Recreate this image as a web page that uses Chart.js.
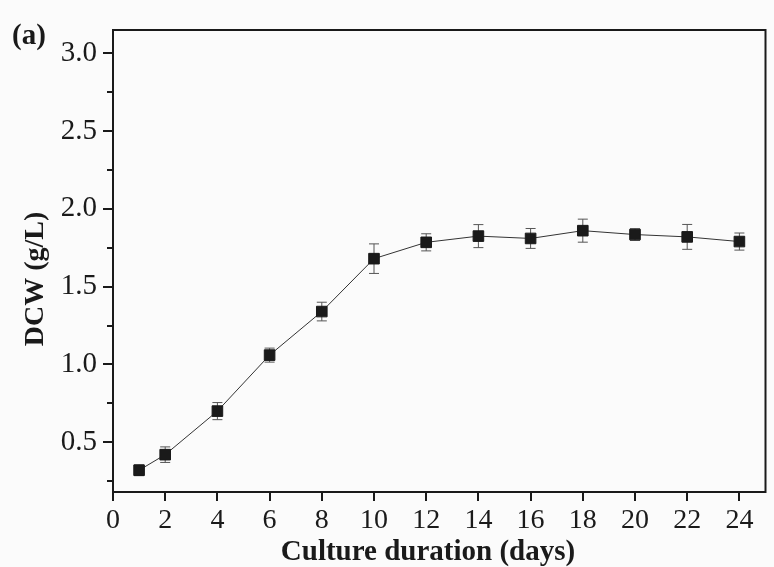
<!DOCTYPE html>
<html>
<head>
  <meta charset="UTF-8" />
  <title>DCW</title>
  <script src="https://cdn.jsdelivr.net/npm/chart.js"></script>
  <style>
    html, body { margin: 0; padding: 0; background: #fbfbfb; }
    #wrap { width: 774px; height: 567px; }
  </style>
</head>
<body>
<div id="wrap"><canvas id="dcwChart" width="774" height="567"></canvas></div>

<script>
  // culture days and dry cell weight (g/L)
  const days = [1, 2, 4, 6, 8, 10, 12, 14, 16, 18, 20, 22, 24];
  const dcw = [0.32, 0.42, 0.70, 1.06, 1.34, 1.68, 1.785, 1.825, 1.81, 1.86, 1.835, 1.82, 1.79];
  const dcwErr = [0.035, 0.05, 0.055, 0.045, 0.06, 0.095, 0.055, 0.074, 0.064, 0.074, 0.038, 0.08, 0.055];

  const panelLabel = '(a)';
  const xTitle = 'Culture duration (days)';
  const yTitle = 'DCW (g/L)';

  const inkColor = '#1a1a1a';
  const serif = "'Liberation Serif', 'Times New Roman', serif";

  // error bars, box frame, outward ticks, titles and panel label
  const decorations = {
    id: 'decorations',
    beforeDatasetsDraw(chart) {
      const ctx = chart.ctx;
      const xs = chart.scales.x;
      const ys = chart.scales.y;
      ctx.save();
      ctx.strokeStyle = '#555';
      ctx.lineWidth = 1;
      days.forEach((d, i) => {
        const px = xs.getPixelForValue(d);
        const top = ys.getPixelForValue(dcw[i] + dcwErr[i]);
        const bot = ys.getPixelForValue(dcw[i] - dcwErr[i]);
        ctx.beginPath();
        ctx.moveTo(px, top);
        ctx.lineTo(px, bot);
        ctx.moveTo(px - 5, top);
        ctx.lineTo(px + 5, top);
        ctx.moveTo(px - 5, bot);
        ctx.lineTo(px + 5, bot);
        ctx.stroke();
      });
      ctx.restore();
    },
    afterDraw(chart) {
      const ctx = chart.ctx;
      const area = chart.chartArea;
      const xs = chart.scales.x;
      const ys = chart.scales.y;
      ctx.save();
      ctx.strokeStyle = inkColor;
      ctx.lineWidth = 2;
      ctx.strokeRect(area.left, area.top, area.right - area.left, area.bottom - area.top);

      ctx.beginPath();
      ys.ticks.forEach(t => {
        const py = Math.round(ys.getPixelForValue(t.value));
        const len = t.label ? 10 : 6;
        ctx.moveTo(area.left - len, py);
        ctx.lineTo(area.left, py);
      });
      xs.ticks.forEach(t => {
        const px = Math.round(xs.getPixelForValue(t.value));
        ctx.moveTo(px, area.bottom);
        ctx.lineTo(px, area.bottom + 9);
      });
      ctx.stroke();

      ctx.fillStyle = inkColor;
      ctx.textBaseline = 'alphabetic';

      ctx.font = 'bold 29px ' + serif;
      ctx.textAlign = 'left';
      ctx.fillText(panelLabel, 12, 44);

      ctx.textAlign = 'center';
      ctx.fillText(xTitle, 428, 560);

      ctx.font = 'bold 28px ' + serif;
      ctx.translate(43, 279);
      ctx.rotate(-Math.PI / 2);
      ctx.fillText(yTitle, 0, 0);
      ctx.restore();
    }
  };

  const chartConfig = {
    type: 'line',
    data: {
      datasets: [{
        label: 'DCW',
        data: days.map((d, i) => ({ x: d, y: dcw[i] })),
        borderColor: '#333',
        borderWidth: 1,
        pointStyle: 'rect',
        pointRadius: 7.5,
        pointBackgroundColor: inkColor,
        pointBorderColor: inkColor,
        pointBorderWidth: 1,
        fill: false,
        tension: 0
      }]
    },
    options: {
      responsive: false,
      animation: false,
      layout: { padding: { left: 0, right: 2, top: 30, bottom: 0 } },
      plugins: {
        legend: { display: false },
        tooltip: { enabled: false }
      },
      scales: {
        x: {
          type: 'linear',
          min: 0,
          max: 25,
          grid: { display: false, drawTicks: false },
          border: { display: false },
          ticks: {
            stepSize: 2,
            includeBounds: false,
            padding: 12,
            color: inkColor,
            font: { family: serif, size: 28 },
            maxRotation: 0
          },
          afterFit(scale) {
            scale.height = 75;
            scale.paddingLeft = 0;
            scale.paddingRight = 0;
          }
        },
        y: {
          min: 0.18,
          max: 3.15,
          grid: { display: false, drawTicks: false },
          border: { display: false },
          ticks: {
            stepSize: 0.25,
            includeBounds: false,
            padding: 16,
            color: inkColor,
            font: { family: serif, size: 29 },
            callback: v => (Math.abs(v * 2 - Math.round(v * 2)) < 1e-6 ? v.toFixed(1) : '')
          },
          afterFit(scale) {
            scale.width = 113;
            scale.paddingTop = 0;
            scale.paddingBottom = 0;
          }
        }
      }
    },
    plugins: [decorations]
  };

  const dcwChart = new Chart(document.getElementById('dcwChart'), chartConfig);
</script>
</body>
</html>
